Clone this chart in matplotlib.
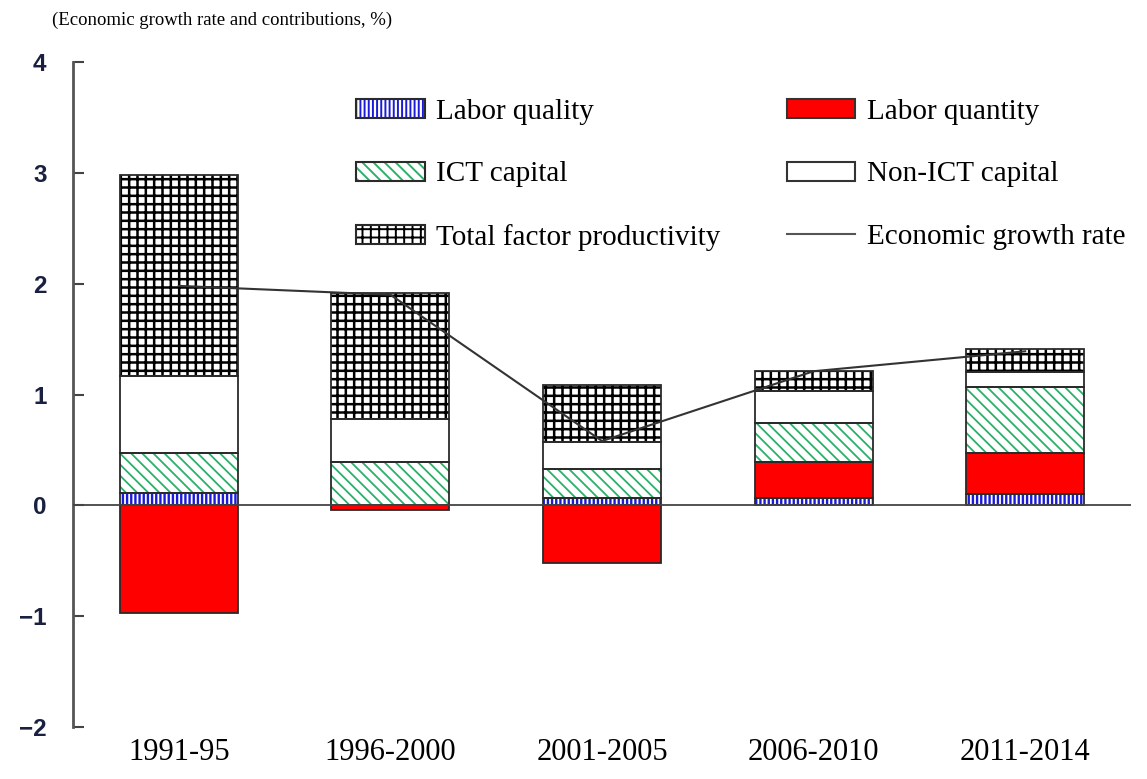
import matplotlib
matplotlib.use("Agg")
import matplotlib.pyplot as plt
from matplotlib.patches import Patch
from matplotlib.lines import Line2D
import numpy as np

periods = ["1991-95", "1996-2000", "2001-2005", "2006-2010", "2011-2014"]
labor_quality = [0.11, 0.00, 0.07, 0.07, 0.10]
labor_quantity = [-0.97, -0.04, -0.52, 0.32, 0.37]
ict_capital = [0.36, 0.39, 0.26, 0.35, 0.60]
non_ict_capital = [0.70, 0.39, 0.24, 0.29, 0.13]
tfp = [1.81, 1.14, 0.52, 0.18, 0.21]
growth_rate = [1.98, 1.90, 0.58, 1.21, 1.39]
yticks = [-2, -1, 0, 1, 2, 3, 4]

plt.rcParams['font.family'] = ['Liberation Serif', 'DejaVu Serif']
plt.rcParams['hatch.linewidth'] = 1.4

fig = plt.figure(figsize=(11.47, 7.79), dpi=100)
ax = fig.add_axes([73/1147, 1-727/779, (1131-73)/1147, (727-62)/779])

x = np.arange(len(periods))
w = 0.557
edge = '#2a2a2a'
elw = 1.3

def hbar(bottom, height, face, hatch=None, hcolor=None, hlw=1.4):
    b = ax.bar(x, height, w, bottom=bottom, color=face, edgecolor=hcolor if hatch else face,
               hatch=hatch, linewidth=0, zorder=2)
    for p in b.patches:
        try:
            p.set_hatch_linewidth(hlw)
        except Exception:
            pass
    ax.bar(x, height, w, bottom=bottom, color='none', edgecolor=edge, linewidth=elw, zorder=3)

lq = np.array(labor_quality)
lqn = np.array(labor_quantity)
ict = np.array(ict_capital)
nict = np.array(non_ict_capital)
tf = np.array(tfp)

pos_base = np.zeros(len(x))
neg_base = np.zeros(len(x))

# labor quality
b = np.where(lq >= 0, pos_base, neg_base)
hbar(b, lq, 'white', '||||', '#1a1ad8', 1.7)
pos_base = pos_base + np.where(lq >= 0, lq, 0)
neg_base = neg_base + np.where(lq < 0, lq, 0)
# labor quantity
b = np.where(lqn >= 0, pos_base, neg_base)
hbar(b, lqn, '#ff0000')
pos_base = pos_base + np.where(lqn >= 0, lqn, 0)
neg_base = neg_base + np.where(lqn < 0, lqn, 0)
# ICT
hbar(pos_base, ict, 'white', '\\\\\\', '#2bb06a', 1.3)
pos_base = pos_base + ict
# non ICT
hbar(pos_base, nict, 'white')
pos_base = pos_base + nict
# TFP
hbar(pos_base, tf, 'white', '++', '#000000', 1.8)

ax.plot(x, growth_rate, color='#333333', linewidth=1.5, zorder=4)
ax.axhline(0, color='#444444', linewidth=1.3, zorder=4)

ax.set_ylim(-2, 4)
ax.set_xlim(-0.5, 4.5)
ax.set_yticks(yticks)
ax.set_yticklabels([str(t) if t >= 0 else '\u2212' + str(-t) for t in yticks])
for s in ['top', 'right', 'bottom']:
    ax.spines[s].set_visible(False)
ax.spines['left'].set_color('#555555')
ax.spines['left'].set_linewidth(2)
ax.tick_params(axis='y', direction='in', length=8, width=1.5, color='#444444', pad=19,
               labelsize=17.5, labelcolor='#1a2040')
for lab in ax.get_yticklabels():
    lab.set_fontfamily(['Liberation Sans', 'DejaVu Sans'])
    lab.set_fontweight('bold')
ax.set_xticks(x)
ax.set_xticklabels(periods, fontsize=22)
ax.tick_params(axis='x', length=0, pad=8)

fig.text(52/1147, 1-20/779, '(Economic growth rate and contributions, %)', fontsize=13.5,
         va='center', ha='left')

def ph(face, hatch=None, hcolor=None):
    if hatch:
        return (Patch(facecolor=face, edgecolor=hcolor, hatch=hatch, linewidth=0),
                Patch(facecolor='none', edgecolor=edge, linewidth=1.5))
    return Patch(facecolor=face, edgecolor='#333333', linewidth=1.5)

handles = [ph('white', '||||', '#1a1ad8'), ph('white', '\\\\\\', '#2bb06a'),
           ph('white', '++', '#000000'), ph('#ff0000'), ph('white'),
           Line2D([], [], color='#555555', linewidth=1.5)]
labels = ['Labor quality', 'ICT capital', 'Total factor productivity',
          'Labor quantity', 'Non-ICT capital', 'Economic growth rate']
fig.legend(handles, labels, ncol=2, loc='upper left',
           bbox_to_anchor=(356/1147, 1-99/779), frameon=False, fontsize=21,
           handlelength=2.35, handleheight=0.62, handletextpad=0.4,
           labelspacing=1.25, columnspacing=2.26, borderpad=0, borderaxespad=0)

fig.savefig('out.png', dpi=100)
